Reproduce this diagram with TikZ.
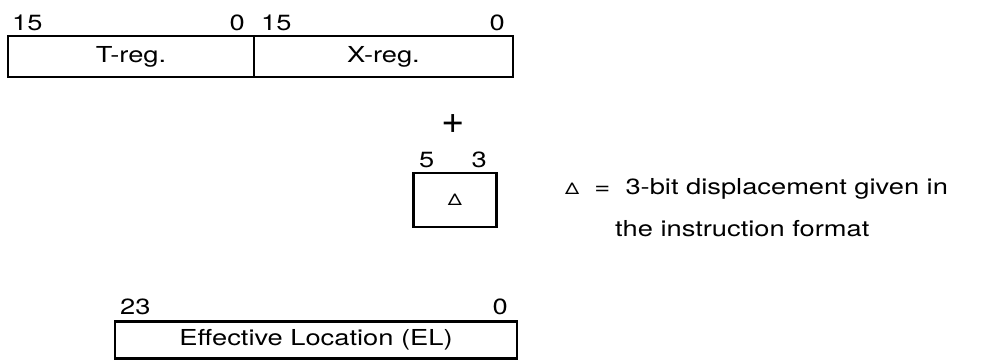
\documentclass[tikz,border=0pt]{standalone}
\usepackage{fontspec}
\setmainfont[FakeStretch=1.24]{TeX Gyre Heros}
\newfontfamily\plusfont{TeX Gyre Heros}
\usetikzlibrary{positioning}
\tikzset{
  regbox/.style={draw,line width=2.6pt,inner sep=0pt,font=\fontsize{22}{25}\selectfont},
  bitnum/.style={font=\fontsize{22}{25}\selectfont,inner sep=0pt},
  note/.style={font=\fontsize{22}{25}\selectfont,inner sep=0pt,anchor=base west}
}

\begin{document}
\begin{tikzpicture}[x=1pt,y=-1pt]
\useasboundingbox (0,0) rectangle (1003,362);
% T and X registers
\node[regbox,minimum width=246pt,minimum height=41pt] (treg) at (131,56.5) {T-reg.};
\node[regbox,minimum width=259pt,minimum height=41pt] (xreg) at (383.5,56.5) {X-reg.};
\node[bitnum,anchor=south west] (t15) at (12,31) {15};
\node[bitnum,anchor=south east] (t0) at (245,31) {0};
\node[bitnum,anchor=south west] (x15) at (261,31) {15};
\node[bitnum,anchor=south east] (x0) at (505,31) {0};
% plus and displacement
\node[inner sep=0pt,font=\plusfont\fontsize{40}{40}\selectfont] (plus) at (453,124) {+};
\node[regbox,minimum width=83pt,minimum height=54pt] (disp) at (455,200) {\fontsize{16}{16}\selectfont Δ};
\node[bitnum,anchor=south west] (d5) at (419,168) {5};
\node[bitnum,anchor=south east] (d3) at (487,168) {3};
\node[note] (noteA) at (565,194) {{\fontsize{16}{16}\selectfont Δ}\ \ =\ \ 3-bit displacement given in};
\node[note] (noteB) at (615,236) {the instruction format};
% effective location
\node[regbox,minimum width=402pt,minimum height=37pt] (el) at (316,340) {Effective Location (EL)};
\node[bitnum,anchor=south west] (e23) at (120,315) {23};
\node[bitnum,anchor=south east] (e0) at (508,315) {0};
\end{tikzpicture}
\end{document}
